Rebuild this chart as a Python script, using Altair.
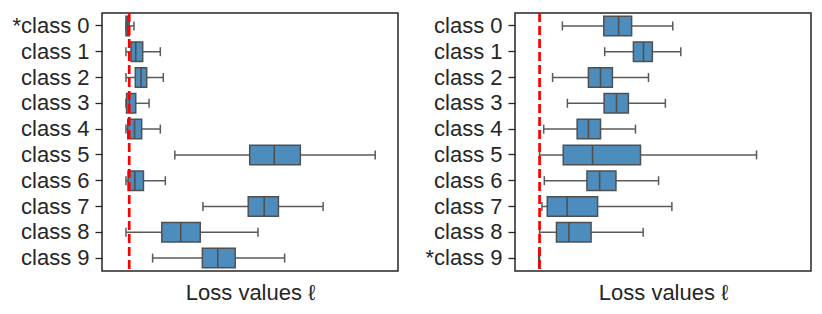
import altair as alt
import pandas as pd

# ---- data (arbitrary loss units) ----
left_classes = ["*class 0", "class 1", "class 2", "class 3", "class 4",
                "class 5", "class 6", "class 7", "class 8", "class 9"]
left_lo  = [8.1, 8.1, 8.1, 8.1, 8.1, 24.6, 8.1, 34.1, 8.1, 17.1]
left_q1  = [8.1, 9.8, 11.25, 8.3, 8.7, 49.9, 8.8, 49.4, 20.2, 33.9]
left_med = [8.6, 11.4, 13.2, 9.2, 11.0, 58.2, 11.1, 54.8, 26.6, 39.1]
left_q3  = [9.2, 13.75, 15.1, 11.4, 13.4, 67.0, 14.0, 59.6, 33.2, 45.0]
left_hi  = [10.8, 19.7, 20.7, 15.9, 19.7, 92.3, 21.4, 74.7, 52.7, 61.7]
left_threshold = [9.2]

right_classes = ["class 0", "class 1", "class 2", "class 3", "class 4",
                 "class 5", "class 6", "class 7", "class 8", "*class 9"]
right_lo  = [16.0, 30.3, 12.7, 17.7, 9.7, 8.3, 9.9, 9.1, 8.3, 8.0]
right_q1  = [30.0, 40.0, 24.8, 30.1, 21.0, 16.3, 24.3, 10.9, 14.0, 8.05]
right_med = [35.0, 43.4, 28.9, 34.3, 24.8, 26.2, 28.6, 17.6, 18.2, 8.1]
right_q3  = [39.4, 46.4, 32.9, 38.3, 28.9, 42.4, 34.1, 27.9, 25.7, 8.15]
right_hi  = [53.3, 56.0, 45.1, 50.8, 40.7, 81.6, 48.5, 53.0, 43.3, 8.3]
right_threshold = [8.3]

x_domain = [0, 100]

BOX = "#4c8dbd"
EDGE = "#505050"
WHISK = "#5a5a5a"
INK = "#262626"


def panel(classes, lo, q1, med, q3, hi, thr):
    df = pd.DataFrame({"cls": classes, "lo": lo, "q1": q1, "med": med, "q3": q3, "hi": hi})
    tdf = pd.DataFrame({"thr": thr})
    xs = alt.Scale(domain=x_domain, nice=False, zero=False)
    ys = alt.Scale(domain=classes, paddingInner=0, paddingOuter=0)
    yenc = alt.Y("cls:N", scale=ys, sort=classes,
                 axis=alt.Axis(title=None, domain=False, grid=False, labelFontSize=22,
                               labelColor=INK, tickSize=7, tickWidth=1.3, tickColor=INK,
                               labelPadding=6, labelFont="Liberation Sans"))
    xaxis = alt.Axis(title="Loss values ℓ", labels=False, ticks=False, domain=False, grid=False,
                     titleFontSize=22, titleFontWeight="normal", titleColor=INK,
                     titlePadding=11, titleFont="Liberation Sans")
    base = alt.Chart(df)
    whisk = base.mark_rule(color=WHISK, strokeWidth=1.5).encode(
        x=alt.X("lo:Q", scale=xs, axis=xaxis), x2="hi:Q", y=yenc)
    caps_lo = base.mark_tick(color=WHISK, size=9, thickness=1.5, opacity=1).encode(
        x=alt.X("lo:Q", scale=xs), y=alt.Y("cls:N", scale=ys, sort=classes))
    caps_hi = base.mark_tick(color=WHISK, size=9, thickness=1.5, opacity=1).encode(
        x=alt.X("hi:Q", scale=xs), y=alt.Y("cls:N", scale=ys, sort=classes))
    box = base.mark_bar(fill=BOX, stroke=EDGE, strokeWidth=1.5, size=19.5, opacity=1).encode(
        x=alt.X("q1:Q", scale=xs), x2="q3:Q", y=alt.Y("cls:N", scale=ys, sort=classes))
    medt = base.mark_tick(color=EDGE, size=19.5, thickness=1.6, opacity=1).encode(
        x=alt.X("med:Q", scale=xs), y=alt.Y("cls:N", scale=ys, sort=classes))
    red = alt.Chart(tdf).mark_rule(color="#ff0000", strokeWidth=2.7, strokeDash=[9, 4]).encode(
        x=alt.X("thr:Q", scale=xs))
    return alt.layer(whisk, caps_lo, caps_hi, box, medt, red).properties(width=296, height=258)


left = panel(left_classes, left_lo, left_q1, left_med, left_q3, left_hi, left_threshold)
right = panel(right_classes, right_lo, right_q1, right_med, right_q3, right_hi, right_threshold)

chart = alt.hconcat(left, right, spacing=25).properties(
    padding={"left": 3, "top": 2, "right": 2, "bottom": 2},
    background="white",
).configure_view(stroke=INK, strokeWidth=1.5)

chart.save("out.html", embed_options={"renderer": "svg", "actions": False})
